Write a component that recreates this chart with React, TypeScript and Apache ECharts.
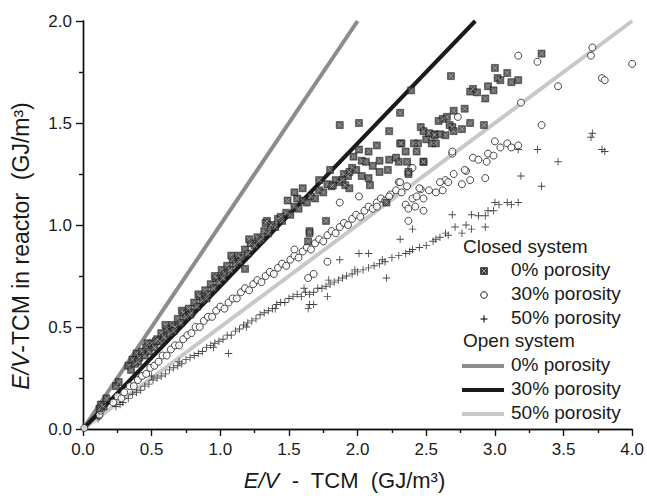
import React, { useEffect, useRef } from "react";
import * as echarts from "echarts";

const xTicks = ["0.0", "0.5", "1.0", "1.5", "2.0", "2.5", "3.0", "3.5", "4.0"];
const yTicks = ["0.0", "0.5", "1.0", "1.5", "2.0"];
const xTitle = "{i|E/V}  -  TCM  (GJ/m³)";
const yTitle = "{i|E/V}-TCM in reactor  (GJ/m³)";

// Closed system, 0% porosity (E/V-TCM, E/V in reactor)
const closed0: number[][] = [
  [0.12, 0.10], [0.13, 0.12], [0.15, 0.11], [0.17, 0.15], [0.24, 0.21], [0.26, 0.23],
  [0.33, 0.31], [0.35, 0.29], [0.36, 0.34], [0.38, 0.32], [0.39, 0.37], [0.41, 0.35],
  [0.43, 0.38], [0.45, 0.36], [0.46, 0.40], [0.48, 0.38], [0.50, 0.42], [0.52, 0.40],
  [0.54, 0.44], [0.56, 0.43], [0.57, 0.47], [0.59, 0.45], [0.61, 0.49], [0.63, 0.47],
  [0.65, 0.51], [0.67, 0.50], [0.69, 0.54], [0.71, 0.52], [0.73, 0.57], [0.75, 0.55],
  [0.77, 0.59], [0.79, 0.57], [0.81, 0.62], [0.83, 0.60], [0.85, 0.65], [0.87, 0.63],
  [0.89, 0.68], [0.91, 0.66], [0.93, 0.71], [0.95, 0.69], [0.97, 0.74], [0.99, 0.72],
  [1.01, 0.78], [1.03, 0.76], [1.05, 0.80], [1.07, 0.78], [1.09, 0.83], [1.11, 0.81],
  [1.13, 0.85], [1.15, 0.84], [1.18, 0.88], [1.20, 0.86], [1.22, 0.91], [1.25, 0.90],
  [1.27, 0.94], [1.30, 0.93], [1.32, 0.97], [1.35, 0.96], [1.37, 1.00], [1.40, 0.99],
  [1.42, 1.03], [1.45, 1.02], [1.48, 1.06], [1.51, 1.05], [1.54, 1.09], [1.57, 1.08],
  [1.60, 1.12], [1.63, 1.11], [1.66, 1.14], [1.69, 1.13], [1.72, 1.17], [1.75, 1.16],
  [1.78, 1.20], [1.81, 1.19], [1.84, 1.22], [1.87, 1.21], [1.90, 1.25], [1.93, 1.24],
  [1.96, 1.28], [1.99, 1.27],
  [0.40, 0.33], [0.47, 0.42], [0.53, 0.43], [0.60, 0.51], [0.66, 0.48], [0.72, 0.58],
  [0.78, 0.56], [0.84, 0.66], [0.90, 0.64], [0.96, 0.75], [1.02, 0.74], [1.08, 0.85],
  [1.14, 0.82], [1.21, 0.93], [1.28, 0.92], [1.34, 1.02], [1.44, 1.04], [1.56, 1.13],
  [1.18, 0.785], [1.33, 1.01], [1.54, 1.16], [1.65, 0.97], [1.64, 0.92], [1.77, 1.02],
  [1.65, 0.96], [1.49, 1.12], [1.60, 1.18], [1.72, 1.22], [1.80, 1.27],
  [1.97, 1.335], [2.03, 1.315], [2.06, 1.31], [2.11, 1.29], [2.16, 1.315], [2.23, 1.32],
  [2.28, 1.33], [2.30, 1.31], [2.36, 1.31], [2.48, 1.31], [2.44, 1.40], [2.50, 1.42],
  [2.54, 1.40], [2.56, 1.445], [1.94, 1.26], [2.03, 1.24], [2.08, 1.23], [2.16, 1.26],
  [2.22, 1.27], [2.37, 1.25], [1.89, 1.22], [1.91, 1.195], [1.94, 1.18], [2.09, 1.195],
  [1.82, 1.195], [2.21, 1.11], [2.14, 1.39], [2.08, 1.36], [2.01, 1.37], [2.31, 1.40],
  [2.35, 1.36], [2.43, 1.36], [2.01, 1.50], [1.87, 1.49], [2.37, 1.26], [2.48, 1.31],
  [3.34, 1.84], [3.00, 1.77], [3.09, 1.745], [3.02, 1.72], [3.04, 1.71], [3.12, 1.70],
  [3.17, 1.71], [2.68, 1.73], [2.39, 1.66], [2.84, 1.667], [2.82, 1.654], [2.87, 1.65],
  [2.95, 1.68], [2.99, 1.66], [2.93, 1.62], [2.31, 1.55], [2.70, 1.56], [2.78, 1.57],
  [2.59, 1.51], [2.62, 1.52], [2.65, 1.53], [2.67, 1.49], [2.69, 1.48], [2.76, 1.47],
  [2.82, 1.50], [2.92, 1.49], [2.23, 1.46], [2.46, 1.48], [2.48, 1.46], [2.52, 1.45],
  [2.56, 1.44], [2.60, 1.445], [2.64, 1.44], [2.70, 1.46], [2.32, 1.40], [2.41, 1.40],
  [2.57, 1.40]
];

// Closed system, 30% porosity
const closed30: number[][] = [
  [0.01, 0.005], [0.12, 0.07], [0.13, 0.09], [0.22, 0.13], [0.25, 0.16], [0.28, 0.15],
  [0.30, 0.18], [0.34, 0.21], [0.37, 0.21], [0.40, 0.24], [0.43, 0.26], [0.46, 0.27],
  [0.49, 0.30], [0.52, 0.31], [0.55, 0.33], [0.58, 0.36], [0.61, 0.36], [0.64, 0.39],
  [0.67, 0.41], [0.70, 0.41], [0.73, 0.44], [0.76, 0.46], [0.79, 0.47], [0.82, 0.50],
  [0.85, 0.50], [0.88, 0.53], [0.91, 0.55], [0.94, 0.55], [0.97, 0.58], [1.00, 0.60],
  [1.03, 0.59], [1.06, 0.62], [1.09, 0.64], [1.12, 0.64], [1.15, 0.67], [1.18, 0.69],
  [1.21, 0.68], [1.24, 0.71], [1.27, 0.73], [1.30, 0.72], [1.33, 0.75], [1.36, 0.77],
  [1.39, 0.76], [1.42, 0.79], [1.45, 0.81], [1.48, 0.80], [1.51, 0.83], [1.54, 0.85],
  [1.57, 0.84], [1.60, 0.87], [1.63, 0.89], [1.66, 0.88], [1.69, 0.91], [1.72, 0.93],
  [1.75, 0.92], [1.78, 0.95], [1.81, 0.97], [1.84, 0.96], [1.87, 0.99], [1.90, 1.01],
  [1.93, 1.00], [1.96, 1.03], [1.99, 1.05], [2.02, 1.04], [2.05, 1.07], [2.08, 1.09],
  [2.11, 1.08], [2.14, 1.11], [2.17, 1.13], [2.20, 1.12], [2.24, 1.15], [2.28, 1.17],
  [2.32, 1.16], [2.36, 1.19],
  [1.64, 0.74], [1.68, 0.76], [1.78, 0.82], [1.54, 0.88], [1.87, 1.11],
  [2.40, 1.13], [2.43, 1.14], [2.48, 1.13], [2.35, 1.10], [2.37, 1.08], [2.42, 1.09],
  [2.48, 1.07], [2.37, 1.02], [2.39, 1.28], [2.30, 1.21], [2.46, 1.175], [2.52, 1.17],
  [2.57, 1.16], [2.62, 1.17], [2.64, 1.22], [2.60, 1.21], [2.66, 1.21], [2.76, 1.20],
  [2.70, 1.25], [2.79, 1.265], [2.93, 1.23], [2.82, 1.22], [2.69, 1.35], [2.84, 1.33],
  [2.88, 1.32], [2.95, 1.35], [2.99, 1.34], [2.94, 1.31], [3.00, 1.41], [3.04, 1.38],
  [3.09, 1.40], [3.12, 1.38], [3.17, 1.39], [2.73, 1.53], [2.01, 1.14], [2.14, 1.09],
  [2.23, 1.14], [2.31, 1.21], [2.40, 1.28], [2.69, 1.36], [2.78, 1.27], [2.45, 1.18],
  [3.17, 1.83], [3.31, 1.80], [3.71, 1.87], [3.70, 1.83], [3.78, 1.72], [3.80, 1.71],
  [4.00, 1.79], [3.46, 1.68], [3.19, 1.60], [3.34, 1.49]
];

// Closed system, 50% porosity
const closed50: number[][] = [
  [0.11, 0.05], [0.12, 0.06], [0.24, 0.11], [0.27, 0.12], [0.29, 0.13], [0.33, 0.15],
  [0.36, 0.17], [0.39, 0.18], [0.42, 0.19], [0.45, 0.21], [0.48, 0.22], [0.51, 0.24],
  [0.54, 0.25], [0.57, 0.26], [0.60, 0.27], [0.63, 0.29], [0.66, 0.30], [0.69, 0.31],
  [0.72, 0.32], [0.75, 0.34], [0.78, 0.35], [0.81, 0.36], [0.84, 0.37], [0.87, 0.38],
  [0.90, 0.40], [0.93, 0.41], [0.96, 0.42], [0.99, 0.43], [1.02, 0.44], [1.05, 0.46],
  [1.08, 0.46], [1.11, 0.48], [1.14, 0.49], [1.17, 0.51], [1.20, 0.52], [1.23, 0.53],
  [1.26, 0.54], [1.29, 0.56], [1.32, 0.57], [1.35, 0.58], [1.38, 0.59], [1.41, 0.61],
  [1.44, 0.62], [1.47, 0.62], [1.50, 0.64], [1.53, 0.65], [1.56, 0.66], [1.59, 0.65],
  [1.62, 0.67], [1.65, 0.66], [1.68, 0.67], [1.71, 0.69], [1.74, 0.69], [1.77, 0.70],
  [1.80, 0.71], [1.83, 0.72], [1.86, 0.73], [1.89, 0.74], [1.92, 0.75], [1.96, 0.76],
  [2.00, 0.77], [2.04, 0.78], [2.08, 0.79], [2.12, 0.80], [2.16, 0.81], [2.20, 0.82],
  [2.25, 0.84], [2.30, 0.85], [2.35, 0.86], [2.40, 0.88], [2.45, 0.89], [2.50, 0.90],
  [2.55, 0.92], [2.60, 0.94], [2.64, 0.96],
  [0.50, 0.26], [0.70, 0.33], [0.95, 0.40], [1.19, 0.50], [1.40, 0.59], [1.61, 0.69],
  [1.79, 0.73], [1.98, 0.78], [2.18, 0.83], [2.38, 0.87], [2.57, 0.93],
  [1.06, 0.37], [1.65, 0.61], [1.78, 0.65], [1.87, 0.83], [2.01, 0.86], [2.08, 0.86],
  [2.21, 0.74], [2.31, 0.93], [1.64, 0.59], [1.68, 0.61], [2.76, 0.96], [2.40, 0.98],
  [2.79, 1.00], [2.83, 0.98], [2.93, 0.99], [2.71, 0.99], [2.66, 0.95], [2.69, 1.05],
  [2.83, 1.05], [2.88, 1.045], [2.93, 1.045], [2.95, 1.07], [2.99, 1.07], [3.00, 1.11],
  [3.03, 1.10], [3.09, 1.11], [3.12, 1.10], [3.17, 1.11], [3.19, 1.24], [3.34, 1.19],
  [3.31, 1.37], [3.17, 1.37], [3.46, 1.31], [3.71, 1.45], [3.70, 1.43], [3.78, 1.37],
  [3.80, 1.36]
];

// Open system lines (E/V in reactor vs E/V-TCM)
const open0: number[][] = [[0, 0], [2, 2]];
const open30: number[][] = [[0, 0], [2.857, 2]];
const open50: number[][] = [[0, 0], [4, 2]];

const legendClosed = ["0% porosity", "30% porosity", "50% porosity"];
const legendOpen = ["0% porosity", "30% porosity", "50% porosity"];

const FONT = "'Liberation Sans', Arial, Helvetica, sans-serif";
const C_GRAY = "#8c8c8c";
const C_BLACK = "#1a1a1a";
const C_LIGHT = "#c8c8c8";
const plusPath = "path://M4.4,0h1.2v4.4h4.4v1.2h-4.4v4.4h-1.2v-4.4h-4.4v-1.2h4.4z";
const xPath = "path://M0,0L10,10M10,0L0,10";

export default function App() {
  const ref = useRef<HTMLDivElement>(null);
  useEffect(() => {
    if (!ref.current) return;
    const chart = echarts.init(ref.current, null, { renderer: "svg" });
    const axisLine = { show: true, lineStyle: { color: "#111", width: 1.4 } };
    const label = {
      fontSize: 17,
      color: "#1a1a1a",
      fontFamily: FONT,
    };
    const baseX = {
      type: "value",
      min: 0,
      max: 4,
      interval: 0.5,
      splitLine: { show: false },
      axisLine,
      minorTick: { show: true, splitNumber: 2, length: 4, lineStyle: { color: "#111", width: 1.2 } },
    };
    const baseY = {
      type: "value",
      min: 0,
      max: 2,
      interval: 0.5,
      splitLine: { show: false },
      axisLine,
      minorTick: { show: true, splitNumber: 2, length: 4, lineStyle: { color: "#111", width: 1.2 } },
    };
    const titleStyle = {
      fontSize: 22,
      color: "#1a1a1a",
      fontFamily: FONT,
    };
    const legendTextStyle = { fontSize: 19, fill: "#1a1a1a", fontFamily: FONT, verticalAlign: "top" };
    const lx = 463;
    const mx = 484;
    const tx = 511;
    const graphic: any[] = [
      {
        type: "text",
        x: 21,
        y: 246,
        rotation: Math.PI / 2,
        style: {
          text: yTitle,
          fontSize: 23,
          fill: "#1a1a1a",
          fontFamily: FONT,
          align: "center",
          verticalAlign: "middle",
          rich: { i: { fontSize: 23, fill: "#1a1a1a", fontFamily: FONT, fontStyle: "italic" } },
        },
      },
      { type: "text", left: lx, top: 237, style: { text: "Closed system", ...legendTextStyle } },
      { type: "rect", shape: { x: mx - 3.5, y: 267.5, width: 7, height: 7 }, style: { fill: "#3c3c3c", stroke: "#111", lineWidth: 0.6 } },
      { type: "line", shape: { x1: mx - 2.3, y1: 268.7, x2: mx + 2.3, y2: 273.3 }, style: { stroke: "#bbb", lineWidth: 0.8 } },
      { type: "line", shape: { x1: mx + 2.3, y1: 268.7, x2: mx - 2.3, y2: 273.3 }, style: { stroke: "#bbb", lineWidth: 0.8 } },
      { type: "circle", shape: { cx: mx, cy: 295, r: 3.3 }, style: { fill: "#fff", stroke: "#1a1a1a", lineWidth: 1 } },
      { type: "line", shape: { x1: mx - 3.5, y1: 319, x2: mx + 3.5, y2: 319 }, style: { stroke: "#1a1a1a", lineWidth: 1.2 } },
      { type: "line", shape: { x1: mx, y1: 315.5, x2: mx, y2: 322.5 }, style: { stroke: "#1a1a1a", lineWidth: 1.2 } },
      { type: "text", left: lx, top: 331, style: { text: "Open system", ...legendTextStyle } },
      { type: "line", shape: { x1: 462, y1: 366, x2: 504, y2: 366 }, style: { stroke: C_GRAY, lineWidth: 4 } },
      { type: "line", shape: { x1: 462, y1: 390, x2: 504, y2: 390 }, style: { stroke: C_BLACK, lineWidth: 4 } },
      { type: "line", shape: { x1: 462, y1: 414, x2: 504, y2: 414 }, style: { stroke: C_LIGHT, lineWidth: 4 } },
    ];
    legendClosed.forEach((t, i) => {
      graphic.push({ type: "text", left: tx, top: 260 + i * 24, style: { text: t, ...legendTextStyle } });
    });
    legendOpen.forEach((t, i) => {
      graphic.push({ type: "text", left: tx, top: 355 + i * 24, style: { text: t, ...legendTextStyle } });
    });

    chart.setOption({
      animation: false,
      backgroundColor: "#fff",
      textStyle: { fontFamily: FONT },
      grid: { left: 83, right: 13, top: 21, bottom: 65, containLabel: false },
      xAxis: [
        {
          ...baseX,
          position: "bottom",
          axisTick: { show: true, length: 7, inside: false, lineStyle: { color: "#111", width: 1.2 } },
          axisLabel: { ...label, margin: 12, formatter: (v: number) => xTicks[Math.round(v / 0.5)] ?? "" },
          name: xTitle,
          nameLocation: "middle",
          nameGap: 40,
          nameTextStyle: {
            ...titleStyle,
            padding: [0, 26, 0, 0],
            rich: { i: { ...titleStyle, fontStyle: "italic" } },
          },
        },
        {
          ...baseX,
          position: "top",
          axisTick: { show: true, length: 7, inside: true, lineStyle: { color: "#111", width: 1.2 } },
          axisLabel: { show: false },
        },
      ],
      yAxis: [
        {
          ...baseY,
          position: "left",
          axisTick: { show: true, length: 7, inside: false, lineStyle: { color: "#111", width: 1.2 } },
          axisLabel: { ...label, margin: 11, formatter: (v: number) => yTicks[Math.round(v / 0.5)] ?? "" },
        },
        {
          ...baseY,
          position: "right",
          axisTick: { show: true, length: 7, inside: true, lineStyle: { color: "#111", width: 1.2 } },
          axisLabel: { show: false },
        },
      ],
      series: [
        { type: "line", data: open50, symbol: "none", lineStyle: { color: C_LIGHT, width: 4 }, z: 2 },
        { type: "line", data: open0, symbol: "none", lineStyle: { color: C_GRAY, width: 4 }, z: 2 },
        { type: "line", data: open30, symbol: "none", lineStyle: { color: C_BLACK, width: 4 }, z: 2 },
        {
          type: "scatter", data: closed50, symbol: plusPath, symbolSize: 7.5,
          itemStyle: { color: "#1a1a1a" }, z: 3,
        },
        {
          type: "scatter", data: closed30, symbol: "circle", symbolSize: 7,
          itemStyle: { color: "#fff", borderColor: "#1a1a1a", borderWidth: 1 }, z: 4,
        },
        {
          type: "scatter", data: closed0, symbol: "rect", symbolSize: 7,
          itemStyle: { color: "#3c3c3c", borderColor: "#111", borderWidth: 0.6 }, z: 5,
        },
        {
          type: "scatter", data: closed0, symbol: xPath, symbolSize: 4.4,
          itemStyle: { color: "none", borderColor: "#bdbdbd", borderWidth: 0.7 }, z: 6, silent: true,
        },
      ],
      graphic,
    });
    return () => chart.dispose();
  }, []);
  return (
    <div
      ref={ref}
      style={{ position: "fixed", left: 0, top: 0, width: 647, height: 496, background: "#fff" }}
    />
  );
}
